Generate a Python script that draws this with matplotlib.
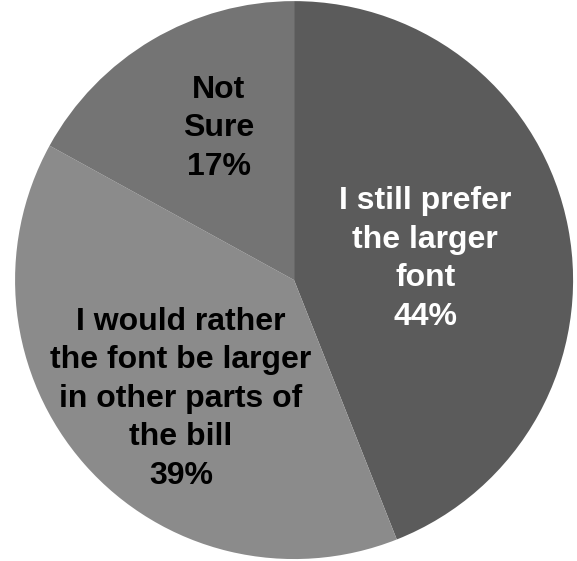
import matplotlib
matplotlib.use("Agg")
import matplotlib.pyplot as plt

# -- data --
labels = ["I still prefer\nthe larger\nfont", "I would rather\nthe font be larger\nin other parts of\nthe bill", "Not\nSure"]
shares = [44, 39, 17]
colors = ["#5b5b5b", "#8b8b8b", "#747474"]
text_colors = ["white", "black", "black"]

# label spots (in pie radius units)
label_xy = [(0.47, 0.075), (-0.405, -0.425), (-0.27, 0.545)]

plt.rcParams["font.family"] = ["Liberation Sans", "DejaVu Sans"]

fig = plt.figure(figsize=(5.77, 5.61), dpi=100)
ax = fig.add_axes([0, 0, 1, 1])

wedges, _ = ax.pie(shares, colors=colors, startangle=90, counterclock=False,
                   radius=1, wedgeprops=dict(linewidth=0))

for lab, val, (x, y), c in zip(labels, shares, label_xy, text_colors):
    ax.text(x, y, f"{lab}\n{val}%", ha="center", va="center", color=c,
            fontsize=23, fontweight="bold", linespacing=1.37)

ax.set_aspect("auto")
ax.set_xlim(-1.054, 1.014)
ax.set_ylim(-1.007, 1.004)
ax.axis("off")

fig.savefig("out.png", dpi=100, facecolor="white")
